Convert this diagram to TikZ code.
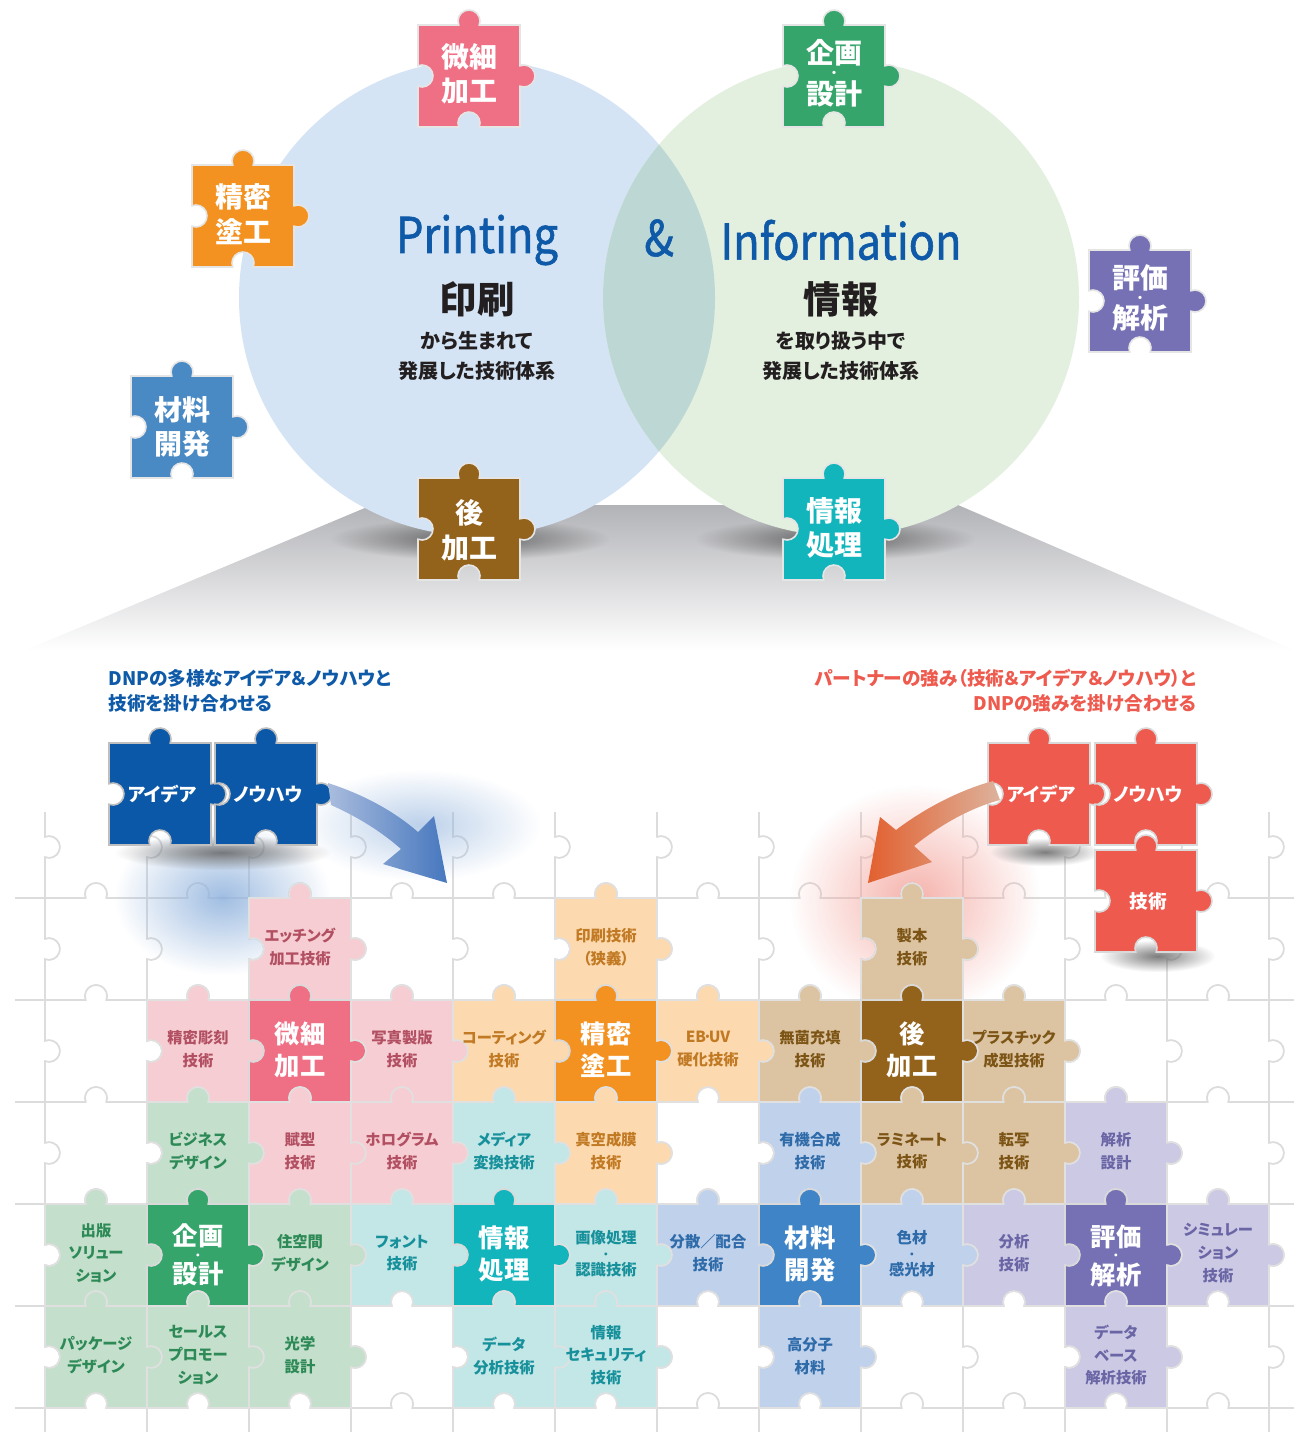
\documentclass[tikz,border=0pt]{standalone}
\usepackage{fontspec}
\setmainfont{Noto Sans CJK JP}[RawFeature=+palt]
\newfontfamily\headfont{Noto Sans CJK JP}[FakeStretch=0.88,FakeBold=1.2]
\usetikzlibrary{fadings}

\newcommand{\fs}[2]{\fontsize{#1}{#2}\selectfont}
\newcommand{\middot}[1]{{\fs{#1}{#1}・}}

\definecolor{circleB}{HTML}{D4E4F4}
\definecolor{circleG}{HTML}{E3F0DF}
\definecolor{circleX}{HTML}{BDD8D4}
\definecolor{titleblue}{HTML}{0F5AA8}
\definecolor{inkdark}{HTML}{231F20}
\definecolor{beamgray}{HTML}{B2B3B7}
\definecolor{gridgray}{HTML}{DCDCDC}
\definecolor{pinkD}{HTML}{EF6F84}
\definecolor{pinkL}{HTML}{F6CDD2}
\definecolor{pinkT}{HTML}{B24F62}
\definecolor{orangeD}{HTML}{F39220}
\definecolor{orangeL}{HTML}{FCD9AF}
\definecolor{orangeT}{HTML}{C17A23}
\definecolor{tanD}{HTML}{93621B}
\definecolor{tanL}{HTML}{DCC4A2}
\definecolor{tanT}{HTML}{7C5415}
\definecolor{greenD}{HTML}{36A56B}
\definecolor{greenL}{HTML}{C4DFCB}
\definecolor{greenT}{HTML}{2D8A57}
\definecolor{cyanD}{HTML}{13B5BC}
\definecolor{cyanL}{HTML}{C3E6E7}
\definecolor{cyanT}{HTML}{16909A}
\definecolor{blueD}{HTML}{3E84C6}
\definecolor{blueF}{HTML}{4A8AC4}
\definecolor{blueL}{HTML}{C0D2EB}
\definecolor{blueT}{HTML}{2F6BA9}
\definecolor{purpleD}{HTML}{7571B4}
\definecolor{purpleL}{HTML}{CBC9E4}
\definecolor{purpleT}{HTML}{6A65A5}
\definecolor{ideablue}{HTML}{0B58A8}
\definecolor{ideared}{HTML}{EF5A4F}
\definecolor{headred}{HTML}{EE5A4E}
\definecolor{arrowblueD}{HTML}{4677BE}
\definecolor{arrowblueL}{HTML}{A9BCDD}
\definecolor{arrowredD}{HTML}{E2602F}
\definecolor{arrowredL}{HTML}{DDB29C}
\definecolor{glowblue}{HTML}{8FB2DD}
\definecolor{glowred}{HTML}{F4A49C}

\tikzfading[name=softglow, inner color=transparent!15, outer color=transparent!100]

\tikzset{every picture/.style={line width=0.75pt}}
\tikzset{
  pics/piece/.style 2 args={code={%
    \draw[yscale=-1,fill=#1,draw=#2,line width=1.2pt] (0,0) -- (40.75,0) arc[start angle=158.7,end angle=381.3,radius=11] -- (102,0) -- (102,40.75) arc[start angle=248.7,end angle=471.3,radius=11] -- (102,102) -- (61.25,102) arc[start angle=21.3,end angle=-201.3,radius=11] -- (0,102) -- (0,61.25) arc[start angle=111.3,end angle=-111.3,radius=11] -- cycle;}},
  toplbl/.style={text=white,align=center,inner sep=0.75pt,font=\fs{21}{26}\bfseries},
  mainlbl/.style={text=white,align=center,inner sep=0.75pt,font=\fs{19}{24}\bfseries},
  sublbl/.style={align=center,inner sep=0.75pt,font=\fs{11.5}{17}\bfseries},
  idealbl/.style={text=white,inner sep=0.75pt,font=\fs{14}{17}\bfseries},
  headlbl/.style={inner sep=0.75pt,font=\fs{14}{18}\bfseries},
  circlbl/.style={text=inkdark,align=center,inner sep=0.75pt,font=\fs{15}{22.5}\bfseries},
  bigkanji/.style={text=inkdark,inner sep=0.75pt,font=\fs{28}{30}\bfseries},
  titlelbl/.style={text=titleblue,inner sep=0.75pt,font=\headfont\fs{37}{40}},
}

\begin{document}
\begin{tikzpicture}[x=0.75pt,y=0.75pt,yscale=-1,xscale=1]
\useasboundingbox (0,0) rectangle (1294,1432);
\fill[white] (0,0) rectangle (1294,1432);

%Shape: light beam below the circles
\shade[top color=beamgray,bottom color=white] (372,505) -- (958,505) -- (1294,650) -- (26,650) -- cycle ;
%Shape: shadows under the circles
\fill[black!70,path fading=softglow] (330,518) rectangle (610,560) ;
\fill[black!70,path fading=softglow] (695,518) rectangle (975,560) ;

%Shape: Circle printing
\fill[circleB] (477,298) circle[radius=238] ;
%Shape: Circle information
\fill[circleG] (841,298) circle[radius=238] ;
%Shape: overlap of both circles
\begin{scope}
\clip (477,298) circle[radius=238] ;
\fill[circleX] (841,298) circle[radius=238] ;
\end{scope}

% Text Node
\node[titlelbl] (print) at (477,240) {Printing};
\node[titlelbl] (amp) at (659,238) {\&};
\node[titlelbl] (info) at (841,240) {Information};
\node[bigkanji] (insatsu) at (477,299) {印刷};
\node[bigkanji] (joho) at (841,299) {情報};
\node[circlbl] (printsub) at (477,356) {から生まれて\\発展した技術体系};
\node[circlbl] (infosub) at (841,356) {を取り扱う中で\\発展した技術体系};

%Shape: floating pieces round the circles
\pic at (418,25) {piece={pinkD}{black!10}};
\node[toplbl] (tbisai) at (469,74) {微細\\加工};
\pic at (783,25) {piece={greenD}{black!10}};
\node[toplbl] (tkikaku) at (834,73) {企画\\[-15.1pt]\middot{9}\\[-5.9pt]設計};
\pic at (192,165) {piece={orangeD}{black!10}};
\node[toplbl] (tseimitsu) at (243,214) {精密\\塗工};
\pic at (1089,250) {piece={purpleD}{black!10}};
\node[toplbl] (thyoka) at (1140,298) {評価\\[-15pt]\middot{9}\\[-6.5pt]解析};
\pic at (131,376) {piece={blueF}{black!10}};
\node[toplbl] (tzairyo) at (182,427) {材料\\開発};
\pic at (418,478) {piece={tanD}{black!10}};
\node[toplbl] (tato) at (469,530) {後\\加工};
\pic at (783,478) {piece={cyanD}{black!10}};
\node[toplbl] (tjoho) at (834,528) {情報\\処理};

% Text Node
\node[headlbl,text=titleblue,anchor=west] (lhead1) at (107,678) {DNPの多様なアイデア＆ノウハウと};
\node[headlbl,text=titleblue,anchor=west] (lhead2) at (107,703) {技術を掛け合わせる};
\node[headlbl,text=headred,anchor=east] (rhead1) at (1198,678) {パートナーの強み（技術＆アイデア＆ノウハウ）と};
\node[headlbl,text=headred,anchor=east] (rhead2) at (1198,703) {DNPの強みを掛け合わせる};

%Shape: background grid of blank pieces
\begin{scope}
\clip (15,812) rectangle (1294,1432);
\foreach \r in {0,...,6}{
  \foreach \c in {-1,...,12}{
    \pic at ({45+102*\c},{796+102*\r}) {piece={white}{gridgray}};
  }
}
\end{scope}

%Shape: glows of the arrows
\fill[glowblue,path fading=softglow] (115,820) rectangle (330,975) ;
\fill[glowblue,path fading=softglow,opacity=0.7] (300,770) rectangle (540,880) ;
\fill[glowred,path fading=softglow] (790,785) rectangle (1040,1015) ;
%Shape: shadows of the loose pieces
\fill[black!60,path fading=softglow] (115,835) rectangle (330,870) ;
\fill[black!60,path fading=softglow] (990,838) rectangle (1100,866) ;
\fill[black!60,path fading=softglow] (1100,940) rectangle (1215,972) ;

%Shape: row 1
\pic at (249,898) {piece={pinkL}{black!12}};
\node[sublbl,text=pinkT] (etching) at (300,947) {エッチング\\加工技術};
\pic at (555,898) {piece={orangeL}{black!12}};
\node[sublbl,text=orangeT] (insatsugi) at (606,947) {印刷技術\\（狭義）};
\pic at (861,898) {piece={tanL}{black!12}};
\node[sublbl,text=tanT] (seihon) at (912,947) {製本\\技術};

%Shape: row 2
\pic at (147,1000) {piece={pinkL}{black!12}};
\node[sublbl,text=pinkT] (chokoku) at (198,1049) {精密彫刻\\技術};
\pic at (249,1000) {piece={pinkD}{black!15}};
\node[mainlbl] (bisai) at (300,1050) {微細\\加工};
\pic at (351,1000) {piece={pinkL}{black!12}};
\node[sublbl,text=pinkT] (seihan) at (402,1049) {写真製版\\技術};
\pic at (453,1000) {piece={orangeL}{black!12}};
\node[sublbl,text=orangeT] (coating) at (504,1049) {コーティング\\技術};
\pic at (555,1000) {piece={orangeD}{black!15}};
\node[mainlbl] (seimitsu) at (606,1050) {精密\\塗工};
\pic at (657,1000) {piece={orangeL}{black!12}};
\node[sublbl,text=orangeT] (ebuv) at (708,1049) {EB\kern-2.5pt·\kern-2.5pt UV\\硬化技術};
\pic at (759,1000) {piece={tanL}{black!12}};
\node[sublbl,text=tanT] (mukin) at (810,1049) {無菌充填\\技術};
\pic at (861,1000) {piece={tanD}{black!15}};
\node[mainlbl] (ato) at (912,1050) {後\\加工};
\pic at (963,1000) {piece={tanL}{black!12}};
\node[sublbl,text=tanT] (plastic) at (1014,1049) {プラスチック\\成型技術};

%Shape: row 3
\pic at (147,1102) {piece={greenL}{black!12}};
\node[sublbl,text=greenT] (business) at (198,1151) {ビジネス\\デザイン};
\pic at (249,1102) {piece={pinkL}{black!12}};
\node[sublbl,text=pinkT] (fukei) at (300,1151) {賦型\\技術};
\pic at (351,1102) {piece={pinkL}{black!12}};
\node[sublbl,text=pinkT] (hologram) at (402,1151) {ホログラム\\技術};
\pic at (453,1102) {piece={cyanL}{black!12}};
\node[sublbl,text=cyanT] (media) at (504,1151) {メディア\\変換技術};
\pic at (555,1102) {piece={orangeL}{black!12}};
\node[sublbl,text=orangeT] (shinku) at (606,1151) {真空成膜\\技術};
\pic at (759,1102) {piece={blueL}{black!12}};
\node[sublbl,text=blueT] (yuki) at (810,1151) {有機合成\\技術};
\pic at (861,1102) {piece={tanL}{black!12}};
\node[sublbl,text=tanT] (laminate) at (912,1151) {ラミネート\\技術};
\pic at (963,1102) {piece={tanL}{black!12}};
\node[sublbl,text=tanT] (tensha) at (1014,1151) {転写\\技術};
\pic at (1065,1102) {piece={purpleL}{black!12}};
\node[sublbl,text=purpleT] (kaiseki) at (1116,1151) {解析\\設計};

%Shape: row 4
\pic at (45,1204) {piece={greenL}{black!12}};
\node[sublbl,text=greenT] (shuppan) at (96,1253) {出版\\ソリュー\\ション};
\pic at (147,1204) {piece={greenD}{black!15}};
\node[mainlbl] (kikaku) at (198,1255) {企画\\[-14pt]\middot{8}\\[-5.5pt]設計};
\pic at (249,1204) {piece={greenL}{black!12}};
\node[sublbl,text=greenT] (jukukan) at (300,1253) {住空間\\デザイン};
\pic at (351,1204) {piece={cyanL}{black!12}};
\node[sublbl,text=cyanT] (font) at (402,1253) {フォント\\技術};
\pic at (453,1204) {piece={cyanD}{black!15}};
\node[mainlbl] (joshori) at (504,1254) {情報\\処理};
\pic at (555,1204) {piece={cyanL}{black!12}};
\node[sublbl,text=cyanT] (gazo) at (606,1254) {画像処理\\[-6.3pt]\middot{8}\\[-3.7pt]認識技術};
\pic at (657,1204) {piece={blueL}{black!12}};
\node[sublbl,text=blueT] (bunsan) at (708,1253) {分散／配合\\技術};
\pic at (759,1204) {piece={blueD}{black!15}};
\node[mainlbl] (zairyo) at (810,1254) {材料\\開発};
\pic at (861,1204) {piece={blueL}{black!12}};
\node[sublbl,text=blueT] (shikizai) at (912,1254) {色材\\[-6.3pt]\middot{8}\\[-3.7pt]感光材};
\pic at (963,1204) {piece={purpleL}{black!12}};
\node[sublbl,text=purpleT] (bunseki) at (1014,1253) {分析\\技術};
\pic at (1065,1204) {piece={purpleD}{black!15}};
\node[mainlbl] (hyoka) at (1116,1256) {評価\\[-14pt]\middot{8}\\[-5.5pt]解析};
\pic at (1167,1204) {piece={purpleL}{black!12}};
\node[sublbl,text=purpleT] (simulation) at (1218,1253) {シミュレー\\ション\\技術};

%Shape: row 5
\pic at (45,1306) {piece={greenL}{black!12}};
\node[sublbl,text=greenT] (package) at (96,1355) {パッケージ\\デザイン};
\pic at (147,1306) {piece={greenL}{black!12}};
\node[sublbl,text=greenT] (sales) at (198,1355) {セールス\\プロモー\\ション};
\pic at (249,1306) {piece={greenL}{black!12}};
\node[sublbl,text=greenT] (kogaku) at (300,1355) {光学\\設計};
\pic at (453,1306) {piece={cyanL}{black!12}};
\node[sublbl,text=cyanT] (data) at (504,1356) {データ\\分析技術};
\pic at (555,1306) {piece={cyanL}{black!12}};
\node[sublbl,text=cyanT] (security) at (606,1355) {情報\\セキュリティ\\技術};
\pic at (759,1306) {piece={blueL}{black!12}};
\node[sublbl,text=blueT] (kobunshi) at (810,1356) {高分子\\材料};
\pic at (1065,1306) {piece={purpleL}{black!12}};
\node[sublbl,text=purpleT] (database) at (1116,1355) {データ\\ベース\\解析技術};

%Shape: DNP pieces
\pic at (109,743) {piece={ideablue}{black!25}};
\node[idealbl] (bidea) at (162,794) {アイデア};
\pic at (215,743) {piece={ideablue}{black!25}};
\node[idealbl] (bknow) at (268,794) {ノウハウ};
%Shape: partner pieces
\pic at (988,743) {piece={ideared}{black!15}};
\node[idealbl] (ridea) at (1041,794) {アイデア};
\pic at (1095,743) {piece={ideared}{black!15}};
\node[idealbl] (rknow) at (1148,794) {ノウハウ};
\pic at (1095,850) {piece={ideared}{black!15}};
\node[idealbl] (rtech) at (1148,901) {技術};

%Curve Lines: blue arrow
\coordinate (btip) at (447,883);
\shade[left color=arrowblueL,right color=arrowblueD] (328,783) .. controls (365,795) and (395,812) .. (418,832) -- (434,816) -- (btip) -- (383,864) -- (401,849) .. controls (383,833) and (360,818) .. (331,805) -- cycle ;
%Curve Lines: red arrow
\coordinate (rtip) at (868,883);
\shade[left color=arrowredD,right color=arrowredL] (993,781) .. controls (960,790) and (925,808) .. (896,830) -- (880,817) -- (rtip) -- (932,862) -- (914,846) .. controls (940,825) and (970,808) .. (1000,800) -- cycle ;

\end{tikzpicture}
\end{document}
